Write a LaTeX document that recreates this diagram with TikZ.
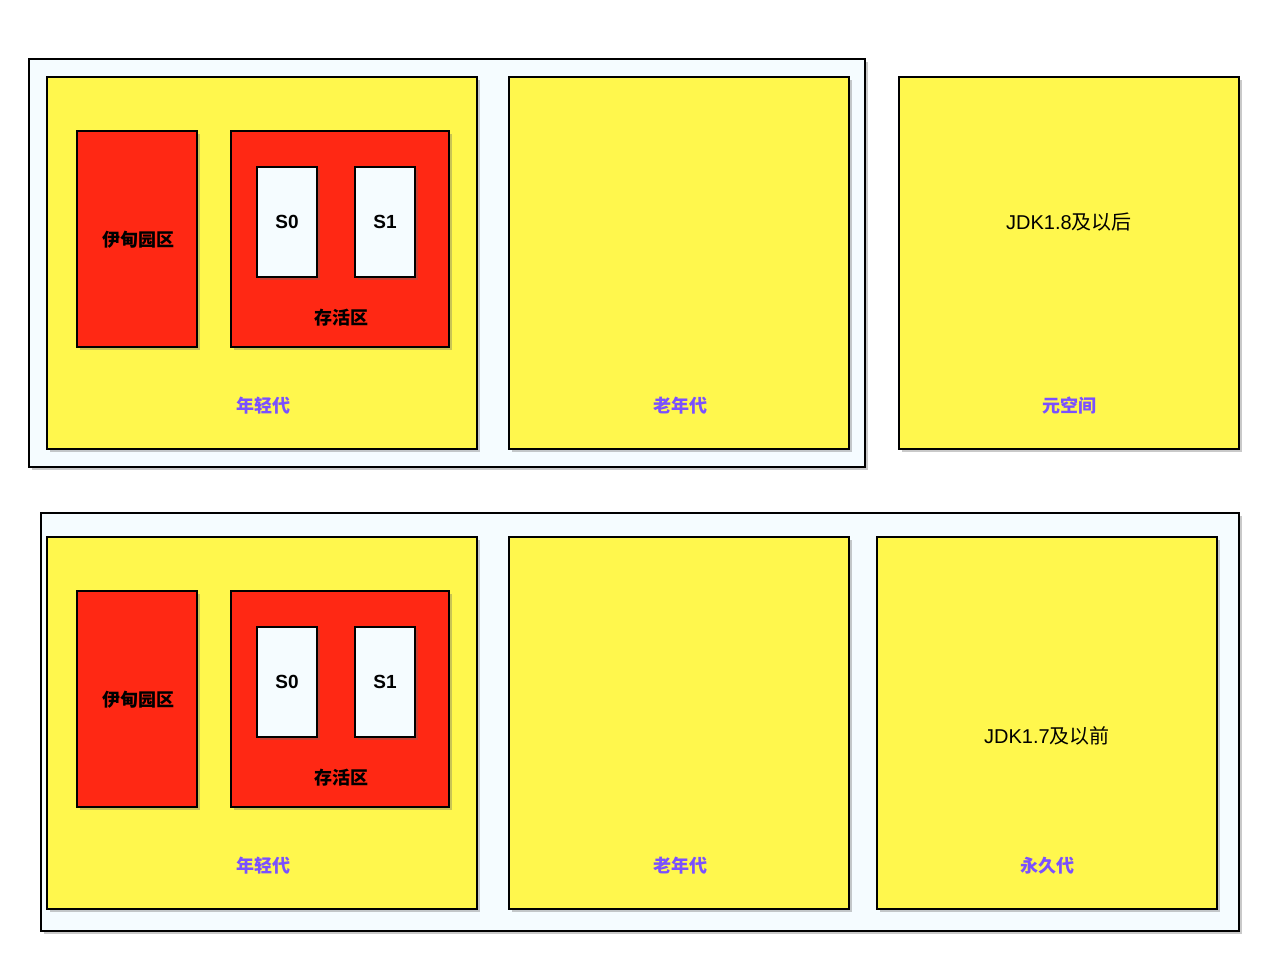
\documentclass[tikz,border=0pt]{standalone}
\usepackage{fontspec}
\setmainfont{Liberation Sans}
\newfontfamily\cjk{Noto Sans CJK SC}
\usetikzlibrary{shadows}
\definecolor{genyellow}{RGB}{255,247,77}
\definecolor{zonered}{RGB}{255,40,20}
\definecolor{paleblue}{RGB}{245,252,255}
\definecolor{labelpurple}{RGB}{122,80,255}
\tikzset{
  box/.style={draw=black, line width=1.4pt, inner sep=0pt, outer sep=0pt,
    drop shadow={shadow xshift=3pt, shadow yshift=-3pt, opacity=0.35, fill=black!60}},
  outerbox/.style={box, fill=paleblue},
  genbox/.style={box, fill=genyellow},
  redbox/.style={box, fill=zonered},
  sbox/.style={box, fill=paleblue},
  blacklabel/.style={font=\fontsize{18}{20}\selectfont\bfseries\cjk, text=black},
  slabel/.style={font=\fontsize{19}{21}\selectfont\bfseries, text=black},
  purplelabel/.style={font=\fontsize{18}{20}\selectfont\bfseries\cjk, text=labelpurple},
  jdklabel/.style={font=\fontsize{20}{22}\selectfont, text=black}
}
\begin{document}
\begin{tikzpicture}[x=1pt,y=-1pt]
\useasboundingbox[fill=white] (0,0) rectangle (1280,960);
% ---------- top row (JDK 1.8+) ----------
\node[outerbox, minimum width=836pt, minimum height=408pt] (heapA) at (447,263) {};
\node[genbox, minimum width=430pt, minimum height=372pt] (youngA) at (262,263) {};
\node[redbox, minimum width=120pt, minimum height=216pt] (edenA) at (137,239) {};
\node[redbox, minimum width=218pt, minimum height=216pt] (survA) at (340,239) {};
\node[sbox, minimum width=60pt, minimum height=110pt] (s0A) at (287,222) {};
\node[sbox, minimum width=60pt, minimum height=110pt] (s1A) at (385,222) {};
\node[genbox, minimum width=340pt, minimum height=372pt] (oldA) at (679,263) {};
\node[genbox, minimum width=340pt, minimum height=372pt] (metaA) at (1069,263) {};
\node[blacklabel] (edenAt) at (138,240) {伊甸园区};
\node[slabel] (s0At) at (287,222) {S0};
\node[slabel] (s1At) at (385,222) {S1};
\node[blacklabel] (survAt) at (341,318) {存活区};
\node[purplelabel] (youngAt) at (263,406) {年轻代};
\node[purplelabel] (oldAt) at (680,406) {老年代};
\node[jdklabel] (jdkA) at (1069,222) {JDK1.8{\cjk 及以后}};
\node[purplelabel] (metaAt) at (1069,406) {元空间};
% ---------- bottom row (JDK 1.7-) ----------
\node[outerbox, minimum width=1198pt, minimum height=418pt] (heapB) at (640,722) {};
\node[genbox, minimum width=430pt, minimum height=372pt] (youngB) at (262,723) {};
\node[redbox, minimum width=120pt, minimum height=216pt] (edenB) at (137,699) {};
\node[redbox, minimum width=218pt, minimum height=216pt] (survB) at (340,699) {};
\node[sbox, minimum width=60pt, minimum height=110pt] (s0B) at (287,682) {};
\node[sbox, minimum width=60pt, minimum height=110pt] (s1B) at (385,682) {};
\node[genbox, minimum width=340pt, minimum height=372pt] (oldB) at (679,723) {};
\node[genbox, minimum width=340pt, minimum height=372pt] (permB) at (1047,723) {};
\node[blacklabel] (edenBt) at (138,700) {伊甸园区};
\node[slabel] (s0Bt) at (287,682) {S0};
\node[slabel] (s1Bt) at (385,682) {S1};
\node[blacklabel] (survBt) at (341,778) {存活区};
\node[purplelabel] (youngBt) at (263,866) {年轻代};
\node[purplelabel] (oldBt) at (680,866) {老年代};
\node[jdklabel] (jdkB) at (1047,736) {JDK1.7{\cjk 及以前}};
\node[purplelabel] (permBt) at (1047,866) {永久代};
\end{tikzpicture}
\end{document}
